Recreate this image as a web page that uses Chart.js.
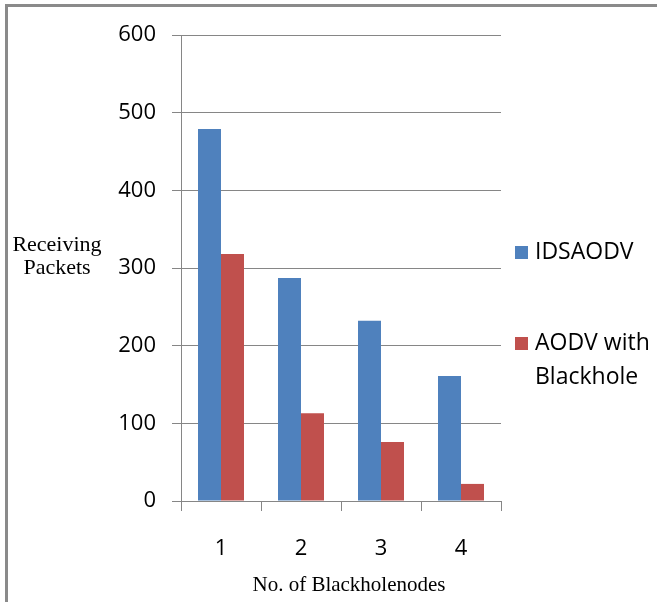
<!DOCTYPE html>
<html>
<head>
<meta charset="utf-8">
<script src="https://cdn.jsdelivr.net/npm/chart.js@4/dist/chart.umd.min.js"></script>
<style>
  html, body { margin: 0; padding: 0; background: #fff; }
  #wrap { position: relative; width: 657px; height: 602px; }
  canvas { display: block; }
</style>
</head>
<body>
<div id="wrap"><canvas id="c" width="657" height="602"></canvas></div>
<script>
// Blackhole-node experiment: packets received per scenario
const categories = ['1', '2', '3', '4'];
const idsAodv = [479, 287, 232, 161];
const aodvBlackhole = [318, 113, 76, 22];
const seriesNames = ['IDSAODV', ['AODV with', 'Blackhole']];
const seriesColors = ['#4F81BD', '#C0504D'];
const yTitleLines = ['Receiving', 'Packets'];
const xTitle = 'No. of Blackholenodes';

const tickFont = { family: '"Open Sans", sans-serif', size: 22 };
const serifFont = '21px "Liberation Serif", "Times New Roman", serif';
const gridColor = '#868686';

// Side legend, axis titles and frame lines
const decorations = {
  id: 'decorations',
  afterDraw(chart) {
    const ctx = chart.ctx;
    const area = chart.chartArea;
    ctx.save();

    // frame lines along top and left
    ctx.strokeStyle = '#8a8a8a';
    ctx.lineWidth = 3;
    ctx.beginPath();
    ctx.moveTo(5, 5.5);
    ctx.lineTo(657, 5.5);
    ctx.moveTo(6.5, 4);
    ctx.lineTo(6.5, 602);
    ctx.stroke();

    // y axis title (horizontal, two lines)
    ctx.fillStyle = '#000';
    ctx.font = '22px "Liberation Serif", "Times New Roman", serif';
    ctx.textAlign = 'center';
    ctx.textBaseline = 'middle';
    const yMid = chart.scales.y.getPixelForValue(300);
    ctx.fillText(yTitleLines[0], 57, yMid - 23);
    ctx.fillText(yTitleLines[1], 57, yMid);

    // x axis title
    ctx.font = serifFont;
    ctx.fillText(xTitle, (area.left + area.right) / 2 + 8, 585);

    // legend
    ctx.textAlign = 'left';
    ctx.font = '23px "Open Sans", sans-serif';
    const rows = [252, 343];
    chart.data.datasets.forEach((ds, i) => {
      const y = rows[i];
      ctx.fillStyle = ds.backgroundColor;
      ctx.fillRect(515, y - 6, 13, 13);
      ctx.fillStyle = '#000';
      const lines = Array.isArray(ds.label) ? ds.label : [ds.label];
      lines.forEach((t, k) => ctx.fillText(t, 535, y + k * 34));
    });
    ctx.restore();
  }
};

new Chart(document.getElementById('c'), {
  type: 'bar',
  data: {
    labels: categories,
    datasets: [
      { label: seriesNames[0], data: idsAodv, backgroundColor: seriesColors[0] },
      { label: seriesNames[1], data: aodvBlackhole, backgroundColor: seriesColors[1] }
    ]
  },
  options: {
    responsive: false,
    animation: false,
    devicePixelRatio: 1,
    layout: { padding: { top: 35, right: 156, left: 0, bottom: 0 } },
    datasets: { bar: { categoryPercentage: 0.575, barPercentage: 1 } },
    plugins: { legend: { display: false }, tooltip: { enabled: false } },
    scales: {
      x: {
        grid: { offset: true, drawOnChartArea: false, drawTicks: true, tickLength: 10, color: gridColor },
        border: { color: gridColor, width: 1 },
        ticks: { color: '#000', font: tickFont, padding: 25 },
        afterFit(s) { s.height = 101; }
      },
      y: {
        min: 0, max: 600,
        ticks: { stepSize: 100, color: '#000', font: tickFont, padding: 16 },
        grid: { color: gridColor, tickLength: 9 },
        border: { color: gridColor, width: 1 },
        afterFit(s) { s.width = 181; }
      }
    }
  },
  plugins: [decorations]
});
</script>
</body>
</html>
